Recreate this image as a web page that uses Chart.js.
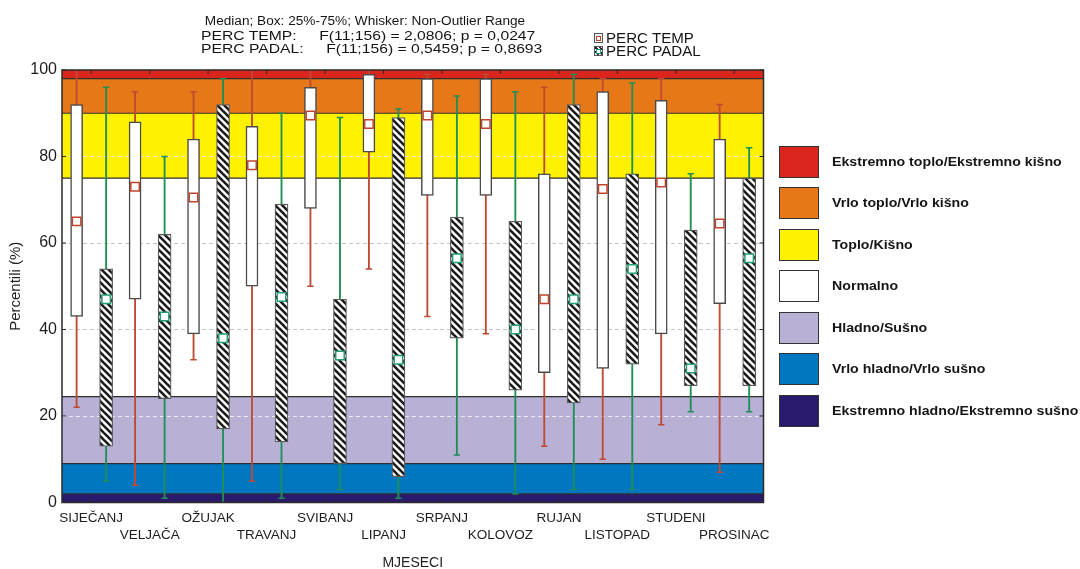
<!DOCTYPE html>
<html>
<head>
<meta charset="utf-8">
<script src="https://cdn.jsdelivr.net/npm/chart.js@4.4.1/dist/chart.umd.min.js"></script>
<style>
  html, body { margin: 0; padding: 0; background: #fff; }
  #wrap { position: relative; width: 1080px; height: 569px; overflow: hidden;
          font-family: 'Liberation Sans', Arial, sans-serif; color: #151515; }
  #c { position: absolute; left: 0; top: 0; }
  .txt { position: absolute; white-space: nowrap; line-height: 1; }
  .sub { left: 364.5px; top: 21px; font-size: 12.5px; transform: translate(-50%, -50%) scaleX(1.09); }
  .stat { left: 200.7px; font-size: 13.3px; transform-origin: left center; transform: translateY(-50%) scaleX(1.18); }
  .stat .gap { margin-left: 15.5px; }
  .ser { left: 606px; font-size: 14px; transform-origin: left center; transform: translateY(-50%) scaleX(1.08); }
  .icon { position: absolute; width: 7px; height: 8px; border: 1px solid #555; background: #fff; }
  .icon span { position: absolute; left: 1px; top: 2px; width: 3px; height: 3px; border: 1.2px solid; background: #fff; }
  .sw { position: absolute; left: 779px; width: 38px; height: 30px; border: 1px solid #333; }
  .blab { left: 831.7px; font-size: 12px; font-weight: bold; transform-origin: left center; transform: translateY(-50%) scaleX(1.18); }
</style>
</head>
<body>
<div id="wrap">
  <canvas id="c" width="1080" height="569"></canvas>
  <div class="txt sub">Median; Box: 25%-75%; Whisker: Non-Outlier Range</div>
  <div class="txt stat" style="top:35.5px">PERC TEMP: <span class="gap">F(11;156) = 2,0806; p = 0,0247</span></div>
  <div class="txt stat" style="top:48.8px">PERC PADAL: <span class="gap">F(11;156) = 0,5459; p = 0,8693</span></div>
  <div id="serLegend"></div>
  <div id="bandLegend"></div>
</div>
<script>
// Months (x categories)
const MONTHS = ['SIJEČANJ', 'VELJAČA', 'OŽUJAK', 'TRAVANJ', 'SVIBANJ', 'LIPANJ',
                'SRPANJ', 'KOLOVOZ', 'RUJAN', 'LISTOPAD', 'STUDENI', 'PROSINAC'];

// Temperature percentiles per month
const TEMP_MEDIAN = [65, 73, 70.5, 78, 89.5, 87.5, 89.5, 87.5, 47, 72.5, 74, 64.5];
const TEMP_Q1     = [43, 47, 39, 50, 68, 81, 71, 71, 30, 31, 39, 46];
const TEMP_Q3     = [92, 88, 84, 87, 96, 99, 98, 98, 76, 95, 93, 84];
const TEMP_MIN    = [22, 4, 33, 5, 50, 54, 43, 39, 13, 10, 18, 7];
const TEMP_MAX    = [100, 95, 95, 100, 100, 100, 99, 99, 96, 98, 98, 92];

// Precipitation percentiles per month
const PADAL_MEDIAN = [47, 43, 38, 47.5, 34, 33, 56.5, 40, 47, 54, 31, 56.5];
const PADAL_Q1     = [13, 24, 17, 14, 9, 6, 38, 26, 23, 32, 27, 27];
const PADAL_Q3     = [54, 62, 92, 69, 47, 89, 66, 65, 92, 76, 63, 75];
const PADAL_MIN    = [5, 1, 0, 1, 3, 1, 11, 2, 3, 3, 21, 21];
const PADAL_MAX    = [96, 80, 98, 90, 89, 91, 94, 95, 99, 97, 76, 82];

// Classification bands (edges from top to bottom), colours and names
const BAND_EDGES  = [100, 98, 90, 75, 24.5, 9, 2, 0];
const BAND_COLORS = ['#da251d', '#e67818', '#fff200', '#ffffff', '#b8b0d5', '#0077c0', '#2a1a6e'];
const BAND_LABELS = ['Ekstremno toplo/Ekstremno kišno', 'Vrlo toplo/Vrlo kišno', 'Toplo/Kišno',
                     'Normalno', 'Hladno/Sušno', 'Vrlo hladno/Vrlo sušno',
                     'Ekstremno hladno/Ekstremno sušno'];

const Y_TICKS = [0, 20, 40, 60, 80, 100];
const SERIES = ['PERC TEMP', 'PERC PADAL'];

const TEMP_SHIFT = -0.25, PADAL_SHIFT = 0.255;
const TEMP_LINE = '#bf4a34', PADAL_LINE = '#1f8f55';
const TEMP_MARK = '#c0442c', PADAL_MARK = '#22a070';
const FONT = "'Liberation Sans', Arial, sans-serif";

function hatchPattern() {
  const t = document.createElement('canvas');
  t.width = 7; t.height = 7;
  const g = t.getContext('2d');
  g.fillStyle = '#ffffff';
  g.fillRect(0, 0, 7, 7);
  g.strokeStyle = '#1c1c1c';
  g.lineWidth = 2.6;
  for (const k of [-7, 0, 7]) {
    g.beginPath();
    g.moveTo(k - 1, -1);
    g.lineTo(k + 8, 8);
    g.stroke();
  }
  return g.createPattern(t, 'repeat');
}
const HATCH = hatchPattern();

const at = (arr, shift) => arr.map((v, i) => ({x: i + shift, y: v}));
const range = (lo, hi, shift) => lo.map((v, i) => ({x: i + shift, y: [v, hi[i]]}));
const ends = (lo, hi, shift) => lo.map((v, i) => ({x: i + shift, y: v}))
  .concat(hi.map((v, i) => ({x: i + shift, y: v})));

// Colour bands behind the grid
const bandsPlugin = {
  id: 'bands',
  beforeDraw(chart) {
    const {ctx, chartArea: a, scales: {y}} = chart;
    ctx.save();
    for (let i = 0; i < BAND_COLORS.length; i++) {
      const top = y.getPixelForValue(BAND_EDGES[i]);
      const bot = y.getPixelForValue(BAND_EDGES[i + 1]);
      ctx.fillStyle = BAND_COLORS[i];
      ctx.fillRect(a.left, top, a.right - a.left, bot - top);
    }
    ctx.strokeStyle = '#2e2e2e';
    ctx.lineWidth = 1.2;
    ctx.beginPath();
    for (let i = 1; i < BAND_EDGES.length - 1; i++) {
      const p = y.getPixelForValue(BAND_EDGES[i]);
      ctx.moveTo(a.left, p);
      ctx.lineTo(a.right, p);
    }
    ctx.stroke();
    ctx.restore();
  }
};

// Plot frame with inward tick marks
const framePlugin = {
  id: 'frame',
  afterDatasetsDraw(chart) {
    const {ctx, chartArea: a, scales: {x, y}} = chart;
    ctx.save();
    ctx.strokeStyle = '#2a2a2a';
    ctx.lineWidth = 1.5;
    ctx.strokeRect(a.left, a.top, a.right - a.left, a.bottom - a.top);
    ctx.lineWidth = 1;
    ctx.beginPath();
    x.ticks.forEach(t => {
      const p = x.getPixelForValue(t.value);
      ctx.moveTo(p, a.top); ctx.lineTo(p, a.top + 4);
      ctx.moveTo(p, a.bottom); ctx.lineTo(p, a.bottom - 4);
    });
    y.ticks.forEach(t => {
      const p = y.getPixelForValue(t.value);
      ctx.moveTo(a.left, p); ctx.lineTo(a.left + 4, p);
      ctx.moveTo(a.right, p); ctx.lineTo(a.right - 4, p);
    });
    ctx.stroke();
    ctx.restore();
  }
};

const inNormal = v => v > BAND_EDGES[4] && v < BAND_EDGES[3];

new Chart(document.getElementById('c'), {
  type: 'bar',
  data: {
    datasets: [
      { label: 'temp whisker', data: range(TEMP_MIN, TEMP_MAX, TEMP_SHIFT),
        backgroundColor: TEMP_LINE, barThickness: 1.2, grouped: false, order: 6 },
      { label: 'padal whisker', data: range(PADAL_MIN, PADAL_MAX, PADAL_SHIFT),
        backgroundColor: PADAL_LINE, barThickness: 1.2, grouped: false, order: 6 },
      { type: 'scatter', label: 'temp caps', data: ends(TEMP_MIN, TEMP_MAX, TEMP_SHIFT),
        pointStyle: 'line', pointRadius: 3.2, borderColor: TEMP_LINE, borderWidth: 1.5, order: 5 },
      { type: 'scatter', label: 'padal caps', data: ends(PADAL_MIN, PADAL_MAX, PADAL_SHIFT),
        pointStyle: 'line', pointRadius: 3.2, borderColor: PADAL_LINE, borderWidth: 1.5, order: 5 },
      { label: SERIES[0], data: range(TEMP_Q1, TEMP_Q3, TEMP_SHIFT),
        backgroundColor: '#ffffff', borderColor: '#4a4a4a', borderWidth: 1.5, borderSkipped: false,
        barThickness: 12, grouped: false, order: 3 },
      { label: SERIES[1], data: range(PADAL_Q1, PADAL_Q3, PADAL_SHIFT),
        backgroundColor: HATCH, borderColor: '#5a5a5a', borderWidth: 1.2, borderSkipped: false,
        barThickness: 13, grouped: false, order: 3 },
      { type: 'scatter', label: 'temp median', data: at(TEMP_MEDIAN, TEMP_SHIFT),
        pointStyle: 'rect', pointRadius: 6, backgroundColor: '#ffffff',
        borderColor: TEMP_MARK, borderWidth: 1.5, order: 1 },
      { type: 'scatter', label: 'padal median', data: at(PADAL_MEDIAN, PADAL_SHIFT),
        pointStyle: 'rect', pointRadius: 6, backgroundColor: '#ffffff',
        borderColor: PADAL_MARK, borderWidth: 1.5, order: 1 }
    ]
  },
  options: {
    responsive: false,
    animation: false,
    events: [],
    layout: { padding: { top: 70, right: 316.5, left: 0, bottom: 0 } },
    plugins: { legend: { display: false }, tooltip: { enabled: false } },
    scales: {
      x: {
        type: 'linear', min: -0.5, max: 11.5, offset: false,
        grid: { display: false, drawTicks: false },
        border: { display: false },
        afterBuildTicks: s => { s.ticks = MONTHS.map((m, i) => ({value: i})); },
        afterFit: s => { s.height = 66.5; },
        ticks: {
          autoSkip: false, maxRotation: 0, minRotation: 0, padding: 7.4, color: '#1e1e1e',
          font: { family: FONT, size: 13.5, lineHeight: 1.25 },
          callback: v => (v % 2 === 0 ? [MONTHS[v]] : ['', MONTHS[v]])
        },
        title: {
          display: true, text: 'MJESECI', color: '#1e1e1e',
          font: { family: FONT, size: 14, lineHeight: 1 }, padding: { top: 0, bottom: -1 }
        }
      },
      y: {
        min: 0, max: 100,
        afterBuildTicks: s => { s.ticks = Y_TICKS.map(v => ({value: v})); },
        afterFit: s => { s.width = 62; },
        grid: {
          drawTicks: false,
          lineWidth: 1,
          color: c => (c.tick.value <= 0 || c.tick.value >= 100) ? 'rgba(0,0,0,0)'
                      : (inNormal(c.tick.value) ? '#c4c4cc' : '#ececec')
        },
        border: { display: false, dash: [4, 3] },
        ticks: { padding: 5, color: '#1e1e1e', font: { family: FONT, size: 16 } },
        title: {
          display: true, text: 'Percentili (%)', color: '#1e1e1e',
          font: { family: FONT, size: 15, lineHeight: 1.2 }, padding: { top: 6.5, bottom: 0 }
        }
      }
    }
  },
  plugins: [bandsPlugin, framePlugin]
});

// Series legend (top)
const serLegend = document.getElementById('serLegend');
const serMid = [37.5, 51];
SERIES.forEach((name, i) => {
  const icon = document.createElement('div');
  icon.className = 'icon';
  icon.style.left = '594px';
  icon.style.top = (serMid[i] - 5) + 'px';
  if (i === 1) icon.style.background = 'repeating-linear-gradient(45deg, #fff 0 1.6px, #222 1.6px 3.2px)';
  const inner = document.createElement('span');
  inner.style.borderColor = i === 0 ? TEMP_MARK : PADAL_MARK;
  icon.appendChild(inner);
  serLegend.appendChild(icon);
  const t = document.createElement('div');
  t.className = 'txt ser';
  t.style.top = serMid[i] + 'px';
  t.textContent = name;
  serLegend.appendChild(t);
});

// Band legend (right)
const bandLegend = document.getElementById('bandLegend');
BAND_LABELS.forEach((name, i) => {
  const top = 145.7 + i * 41.55;
  const sw = document.createElement('div');
  sw.className = 'sw';
  sw.style.top = top + 'px';
  sw.style.background = BAND_COLORS[i];
  bandLegend.appendChild(sw);
  const t = document.createElement('div');
  t.className = 'txt blab';
  t.style.top = (top + 16) + 'px';
  t.textContent = name;
  bandLegend.appendChild(t);
});
</script>
</body>
</html>
